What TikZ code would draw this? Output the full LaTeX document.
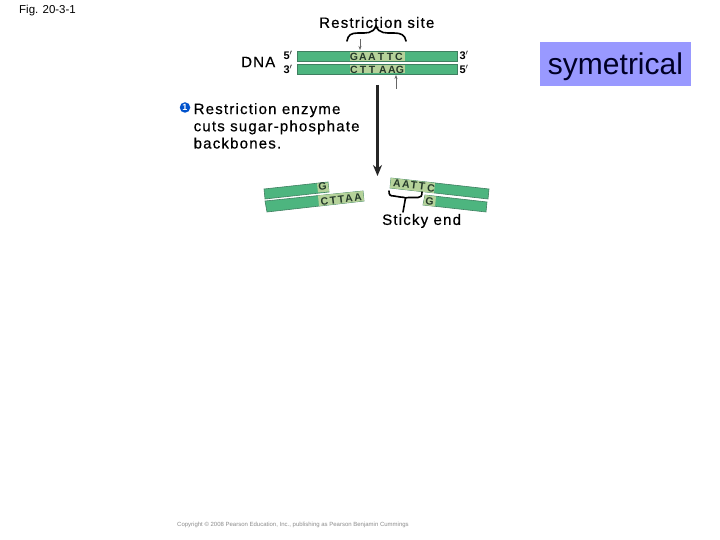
\documentclass[tikz,border=0pt]{standalone}
\usepackage{fontspec}
\setmainfont{Liberation Sans}
\newfontfamily\widefont[LetterSpace=8,FakeBold=0.5]{Liberation Sans}
\usetikzlibrary{arrows.meta}
\definecolor{dnagreen}{HTML}{4DB57F}
\definecolor{dnalight}{HTML}{B5D29A}
\definecolor{dnaedge}{HTML}{3F7F60}
\definecolor{lettercol}{HTML}{24382A}
\definecolor{symblue}{HTML}{9999FF}
\tikzset{
 x=1pt,y=-1pt,
 lab/.style={inner sep=0,font=\widefont\fontsize{15}{17.5}\selectfont,text=black},
 primes/.style={inner sep=0,font=\bfseries\fontsize{11}{11}\selectfont},
 bar/.style={fill=dnagreen,draw=dnaedge,line width=.6pt},
 lbar/.style={fill=dnalight,draw=none},
 base/.style={inner sep=0,font=\bfseries\fontsize{10.5}{10.5}\selectfont,text=lettercol},
 fragbase/.style={inner sep=0,font=\bfseries\fontsize{10.5}{10.5}\selectfont,text=lettercol},
 brace/.style={draw=black,line width=1.6pt,line cap=round},
 thin arrow/.style={draw=black!60,line width=.5pt,-{Stealth[length=4pt,width=3pt]}},
}
\begin{document}
\begin{tikzpicture}
\useasboundingbox (0,0) rectangle (720,540);
\fill[white] (0,0) rectangle (720,540);
\node[anchor=west,inner sep=0,font=\fontsize{11.5}{13}\selectfont] (fig) at (19,11) {Fig. 20-3-1};
\node[lab,anchor=west] (site) at (319,22.5) {Restriction site};
\node[lab,anchor=west] (dna) at (241,62) {DNA};
\node[primes] (p1) at (288,55.5) {5$'$};
\node[primes] (p2) at (288,69.5) {3$'$};
\node[primes] (p3) at (464,55.5) {3$'$};
\node[primes] (p4) at (464,69.5) {5$'$};
% intact DNA
\draw[bar] (297,51.5) rectangle (457.5,61.5);
\draw[bar] (297,64.5) rectangle (457.5,74);
\fill[lbar] (350,52) rectangle (405,61);
\fill[lbar] (350,65) rectangle (405,73.5);
\foreach \t/\xx in {G/354,A/363,A/372,T/381,T/390,C/399}{\node[base] at (\xx,56.5) {\t};}
\foreach \t/\xx in {C/354,T/363,T/372,A/383,A/392,G/400}{\node[base] at (\xx,69.5) {\t};}
% brace over site
\draw[brace] (347,41) .. controls (348,35) and (351,33) .. (358,33) .. controls (366,33) and (373,34) .. (376,26) .. controls (379,34) and (386,33) .. (394,33) .. controls (401,33) and (405,35) .. (406,41);
% small arrows
\coordinate (a1s) at (360,39); \coordinate (a1e) at (360,50);
\draw[thin arrow] (a1s) -- (a1e);
\coordinate (a2s) at (396,89); \coordinate (a2e) at (396,75);
\draw[thin arrow] (a2s) -- (a2e);
% main arrow
\coordinate (ms) at (377.5,85); \coordinate (me) at (377.5,176);
\draw[line width=2.6pt,-{Stealth[length=11pt,width=9pt]},draw=black!85] (ms) -- (me);
% step label
\node[circle,fill=blue!60!cyan!80!black,inner sep=0,minimum size=10.5pt,text=white,font=\bfseries\fontsize{9}{9}\selectfont] (num) at (185,107.5) {1};
\node[lab,anchor=north west,align=left,font=\widefont\fontsize{15}{17.2}\selectfont] (step) at (193.5,103) {Restriction enzyme\\cuts sugar-phosphate\\backbones.};
% left fragments
\draw[bar] (264,189) -- (328,182) -- (329,192) -- (265,199) -- cycle;
\fill[lbar] (317,183.5) -- (328,182.5) -- (329,191.5) -- (318,192.5) -- cycle;
\node[fragbase,rotate=7] at (322.5,186) {G};
\draw[bar] (265,201) -- (363,191) -- (364,201) -- (267,212) -- cycle;
\fill[lbar] (318,195.5) -- (363,191) -- (364,201) -- (319,206) -- cycle;
\foreach \t/\xx/\yy in {C/324.5,T/333/200,T/341/199,A/349/198,A/358/196.5}{}
\foreach \t/\xx/\yy in {C/324.5/201.5,T/333/200.5,T/341/199.5,A/349/198.5,A/358/197}{\node[fragbase,rotate=7] at (\xx,\yy) {\t};}
% right fragments
\draw[bar] (391,178) -- (489,189) -- (488,199) -- (390,188) -- cycle;
\fill[lbar] (391,178) -- (435,183) -- (434,193) -- (390,188) -- cycle;
\foreach \t/\xx/\yy in {A/397/183.5,A/406/184.5,T/414/185.5,T/422/186.5,C/431/188}{\node[fragbase,rotate=-7] at (\xx,\yy) {\t};}
\draw[bar] (425,195) -- (487,202) -- (486,212) -- (423,205) -- cycle;
\fill[lbar] (425,195) -- (436,196.5) -- (435,206.5) -- (423,205) -- cycle;
\node[fragbase,rotate=-7] at (429.5,201) {G};
% sticky end brace
\node[lab,anchor=west] (sticky) at (382,221) {Sticky end};
\draw[brace] (389,191) .. controls (389,195) and (390,196) .. (394,196) -- (400,197) .. controls (403,197) and (404.5,197.5) .. (405.5,198) .. controls (406.5,197.5) and (408,197.5) .. (412,197.5) -- (418,197.5) .. controls (421,197.5) and (422,196) .. (422,192);
\coordinate (st) at (405.5,198); \coordinate (sb) at (403,212);
\draw[brace] (st) -- (sb);
% copyright
\node[anchor=west,inner sep=0,text=black!45,font=\fontsize{6}{7}\selectfont] (copy) at (177,524.5) {Copyright © 2008 Pearson Education, Inc., publishing as Pearson Benjamin Cummings};
% label box
\node[fill=symblue,minimum width=151pt,inner sep=0,text height=33pt,text depth=11pt,text=black!85!blue,font=\fontsize{30}{34}\selectfont] (sym) at (615.5,64) {symetrical};
\end{tikzpicture}
\end{document}
